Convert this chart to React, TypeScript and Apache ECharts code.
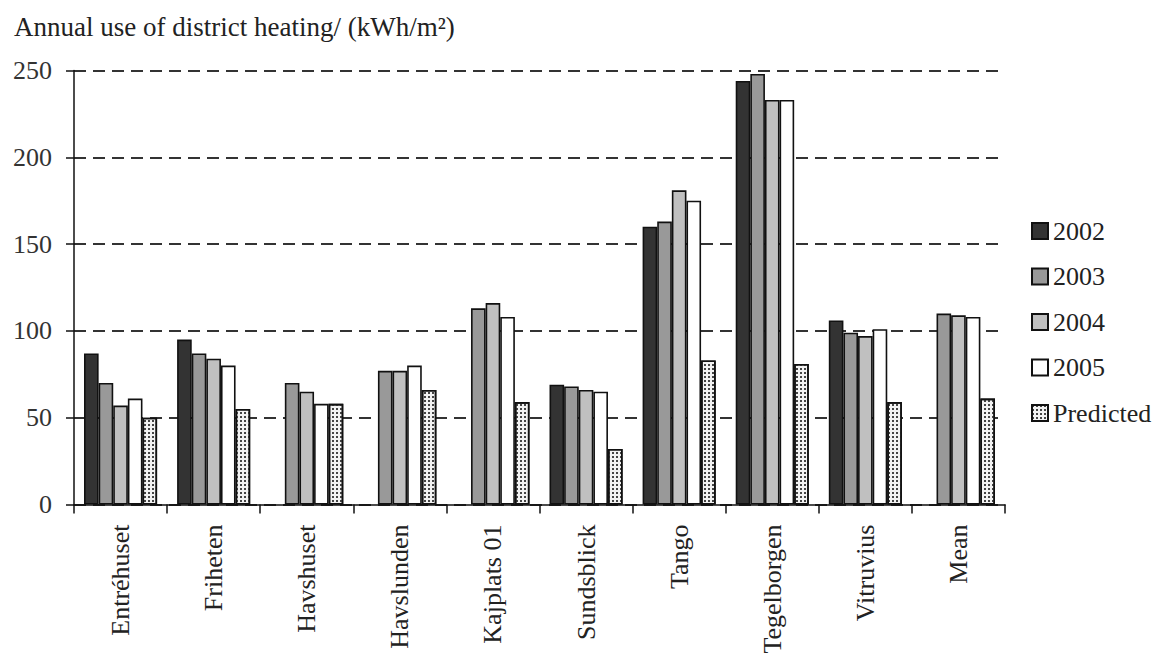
import React, { useEffect, useRef } from "react";
import * as echarts from "echarts";

const categories = ["Entréhuset", "Friheten", "Havshuset", "Havslunden", "Kajplats 01", "Sundsblick", "Tango", "Tegelborgen", "Vitruvius", "Mean"];
const seriesNames = ["2002", "2003", "2004", "2005", "Predicted"];
const values2002 = [87, 95, null, null, null, 69, 160, 244, 106, null];
const values2003 = [70, 87, 70, 77, 113, 68, 163, 248, 99, 110];
const values2004 = [57, 84, 65, 77, 116, 66, 181, 233, 97, 109];
const values2005 = [61, 80, 58, 80, 108, 65, 175, 233, 101, 108];
const valuesPredicted = [50, 55, 58, 66, 59, 32, 83, 81, 59, 61];
const yTicks = [0, 50, 100, 150, 200, 250];

const FONT = "Liberation Serif";

export default function App() {
  const ref = useRef<HTMLDivElement>(null);
  useEffect(() => {
    document.body.style.margin = "0";
    if (!ref.current) return;
    const chart = echarts.init(ref.current, undefined, { renderer: "svg" });
    const colors = ["#333333", "#999999", "#c0c0c0", "#ffffff", "#f2f2f2"];
    const allValues = [values2002, values2003, values2004, values2005, valuesPredicted];
    const series = seriesNames.map((name, i) => ({
      name,
      type: "bar",
      data: allValues[i],
      barGap: "0%",
      barCategoryGap: "21.5%",
      itemStyle: {
        color: colors[i],
        borderColor: "#111",
        borderWidth: 1.6,
        ...(i === 4
          ? {
              decal: {
                symbol: "rect",
                symbolSize: 1,
                color: "#444",
                dashArrayX: [1.5, 1.8],
                dashArrayY: [1.5, 1.8],
                rotation: 0,
              },
            }
          : {}),
      },
    }));
    chart.setOption({
      animation: false,
      backgroundColor: "#ffffff",
      textStyle: { fontFamily: FONT },
      title: {
        text: "Annual use of district heating/ (kWh/m²)",
        left: 9,
        top: 8,
        textStyle: { fontFamily: FONT, fontSize: 27, fontWeight: "normal", color: "#222" },
      },
      legend: {
        orient: "vertical",
        left: 1026,
        top: 213,
        icon: "rect",
        itemWidth: 16,
        itemHeight: 16,
        itemGap: 19.5,
        data: seriesNames,
        textStyle: { fontFamily: FONT, fontSize: 26, color: "#222", lineHeight: 26 },
      },
      grid: { left: 74, right: 158, top: 70.5, bottom: 154.5, containLabel: false, outerBoundsMode: "none" },
      xAxis: {
        type: "category",
        data: categories,
        axisLine: { show: true, lineStyle: { color: "#111", width: 1.5 } },
        axisTick: { show: true, length: 9, lineStyle: { color: "#111", width: 1.5 } },
        axisLabel: {
          rotate: 90,
          margin: 20,
          fontFamily: FONT,
          fontSize: 26,
          color: "#222",
          interval: 0,
        },
      },
      yAxis: {
        type: "value",
        min: yTicks[0],
        max: yTicks[yTicks.length - 1],
        interval: 50,
        axisLine: { show: true, lineStyle: { color: "#111", width: 1.5 } },
        axisTick: { show: true, length: 8, lineStyle: { color: "#111", width: 1.5 } },
        axisLabel: { margin: 22, fontFamily: FONT, fontSize: 26, color: "#333" },
        splitLine: { show: true, lineStyle: { color: "#333", width: 2, type: [12, 7] } },
      },
      series,
    });
    return () => chart.dispose();
  }, []);
  return <div ref={ref} style={{ width: 1163, height: 659 }} />;
}
